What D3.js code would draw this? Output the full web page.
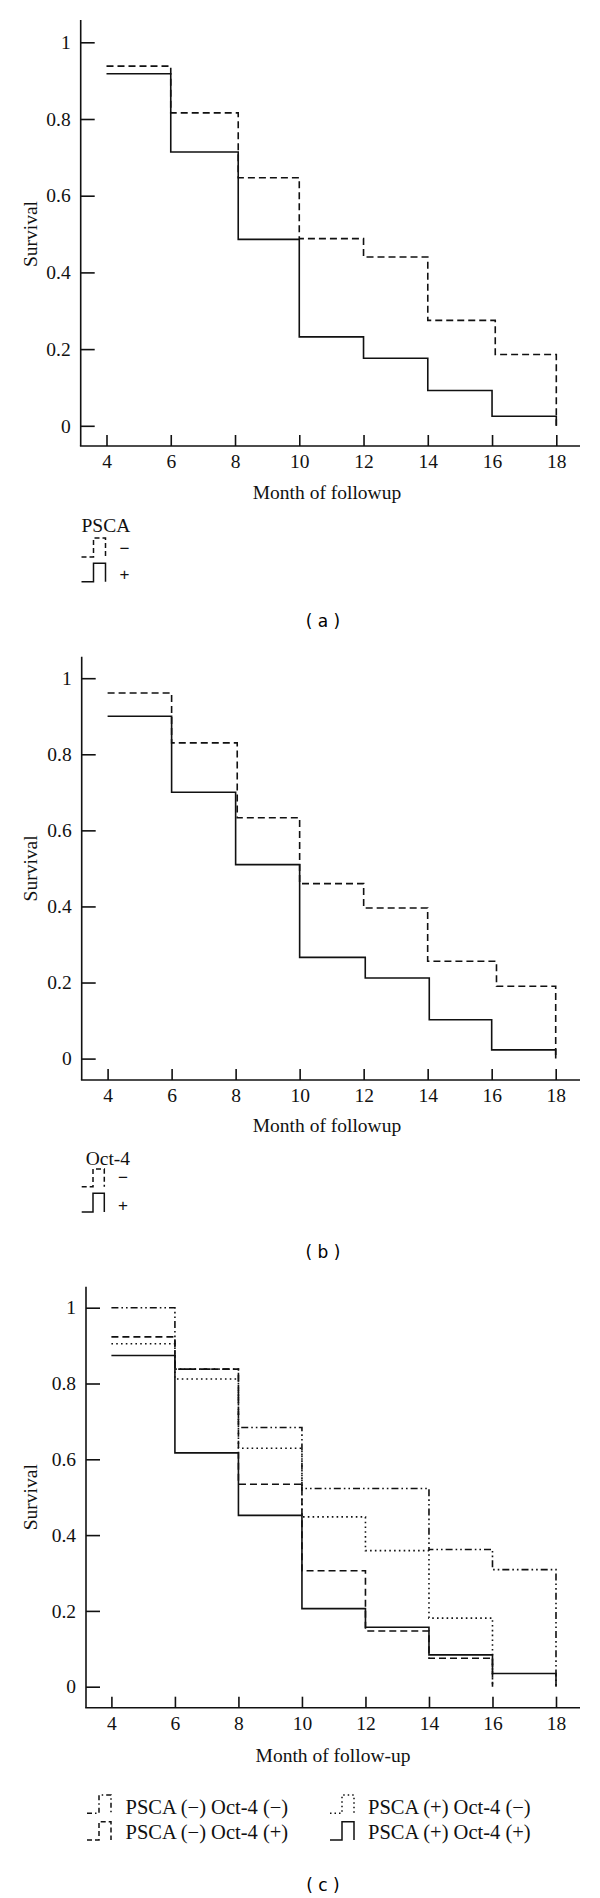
<!DOCTYPE html>
<html><head><meta charset="utf-8">
<script src="https://cdn.jsdelivr.net/npm/d3@7"></script>
<style>body{margin:0;background:#fff}</style>
</head><body>
<script>
// ---------- data ----------
const monthTicks = [4, 6, 8, 10, 12, 14, 16, 18];
const survTicks = [0, 0.2, 0.4, 0.6, 0.8, 1];
const survTickLabels = ["0", "0.2", "0.4", "0.6", "0.8", "1"];

// (a) PSCA
const aNegMonths = [4, 6, 8.1, 10, 12, 14, 16.1, 18];
const aNegSurv   = [0.938, 0.816, 0.647, 0.488, 0.440, 0.275, 0.186, 0];
const aPosMonths = [4, 6, 8.1, 10, 12, 14, 16, 18];
const aPosSurv   = [0.918, 0.714, 0.486, 0.232, 0.176, 0.092, 0.025, 0];

// (b) Oct-4
const bNegMonths = [4, 6, 8.05, 10, 12, 14, 16.15, 18];
const bNegSurv   = [0.961, 0.830, 0.633, 0.460, 0.396, 0.256, 0.190, 0];
const bPosMonths = [4, 6, 8, 10, 12.05, 14.05, 16, 18];
const bPosSurv   = [0.900, 0.700, 0.510, 0.266, 0.212, 0.102, 0.023, 0];

// (c) combined
const cNNMonths = [4, 6, 8, 10, 14, 16, 18];
const cNNSurv   = [1.000, 0.838, 0.684, 0.523, 0.362, 0.309, 0];
const cNPMonths = [4, 6, 8, 10, 12, 14, 16];
const cNPSurv   = [0.923, 0.838, 0.534, 0.306, 0.147, 0.075, 0];
const cPNMonths = [4, 6, 8, 10, 12, 14, 16];
const cPNSurv   = [0.905, 0.812, 0.629, 0.448, 0.359, 0.181, 0];
const cPPMonths = [4, 6, 8, 10, 12, 14, 16, 18];
const cPPSurv   = [0.874, 0.617, 0.452, 0.206, 0.157, 0.084, 0.035, 0];

const legendALabels = ["\u2212", "+"];
const legendBLabels = ["\u2212", "+"];
const legendCLabels = ["PSCA (\u2212) Oct-4 (\u2212)", "PSCA (\u2212) Oct-4 (+)", "PSCA (+) Oct-4 (\u2212)", "PSCA (+) Oct-4 (+)"];

// ---------- styles ----------
const DASH = {solid: null, dashed: "7,4", dotted: "1.6,3.2", dashdot: "7,3,1.6,3,1.6,3"};
const SERIF = "'Liberation Serif', 'Times New Roman', serif";
const SANS = "'DejaVu Sans', Verdana, sans-serif";
const INK = "#111";

const svg = d3.select("body").append("svg").attr("width", 600).attr("height", 1898);

function zip(ms, ss) { return ms.map((m, i) => [m, ss[i]]); }

function drawPanel(p) {
  const x = d3.scaleLinear().domain([4, 18]).range([p.x4, p.x18]);
  const y = d3.scaleLinear().domain([0, 1]).range([p.y0, p.y1]);
  const g = svg.append("g");

  g.append("line").attr("x1", p.ax).attr("x2", p.ax).attr("y1", p.axTop).attr("y2", p.axBottom)
    .attr("stroke", INK).attr("stroke-width", 1.6);
  g.append("line").attr("x1", p.ax - 0.8).attr("x2", p.axRight).attr("y1", p.axBottom).attr("y2", p.axBottom)
    .attr("stroke", INK).attr("stroke-width", 1.6);

  const yAxis = d3.axisLeft(y).tickValues(survTicks)
    .tickFormat(d => survTickLabels[survTicks.indexOf(d)])
    .tickSizeInner(-14).tickSizeOuter(0).tickPadding(10);
  const ya = g.append("g").attr("transform", `translate(${p.ax},0)`).call(yAxis);
  ya.select(".domain").remove();
  ya.selectAll("line").attr("stroke", INK).attr("stroke-width", 1.6);
  ya.selectAll("text").attr("font-family", SERIF).attr("font-size", 19.5).attr("fill", INK);

  const xAxis = d3.axisBottom(x).tickValues(monthTicks)
    .tickSizeInner(-11).tickSizeOuter(0).tickPadding(8);
  const xa = g.append("g").attr("transform", `translate(0,${p.axBottom})`).call(xAxis);
  xa.select(".domain").remove();
  xa.selectAll("line").attr("stroke", INK).attr("stroke-width", 1.6);
  xa.selectAll("text").attr("font-family", SERIF).attr("font-size", 19.5).attr("fill", INK);

  g.append("text").attr("x", p.xTitleX).attr("y", p.xTitleY).attr("text-anchor", "middle")
    .attr("dominant-baseline", "central").attr("font-family", SERIF).attr("font-size", 19.5).attr("fill", INK)
    .text(p.xTitle);
  g.append("text").attr("transform", `translate(30.6,${(p.y0 + p.y1) / 2}) rotate(-90)`)
    .attr("text-anchor", "middle").attr("dominant-baseline", "central")
    .attr("font-family", SERIF).attr("font-size", 19.5).attr("fill", INK).text("Survival");

  const line = d3.line().x(d => x(d[0])).y(d => y(d[1])).curve(d3.curveStepAfter);
  p.series.forEach(s => {
    g.append("path").attr("d", line(s.pts)).attr("fill", "none").attr("stroke", INK)
      .attr("stroke-width", 1.6).attr("stroke-dasharray", DASH[s.style]);
  });

  g.append("text").attr("x", 323).attr("y", p.capY).attr("text-anchor", "middle")
    .attr("dominant-baseline", "central").attr("font-family", SANS).attr("font-size", 17).attr("fill", "#000")
    .text(p.caption);
}

function legendSymbol(x0, yTop, yBot, w, style) {
  const h = w / 2;
  const pts = [[x0, yBot], [x0 + h, yBot], [x0 + h, yTop], [x0 + w, yTop], [x0 + w, yBot]];
  svg.append("path").attr("d", d3.line()(pts)).attr("fill", "none").attr("stroke", INK)
    .attr("stroke-width", 1.5).attr("stroke-dasharray", style === "dashed" ? "5,3" : style === "dotted" ? "1.5,3" : style === "dashdot" ? "5,3,1.5,3" : null);
}

// ---------- panel a ----------
drawPanel({
  x4: 106.5, x18: 556.3, y0: 425.8, y1: 42.3, ax: 80.7, axTop: 20, axBottom: 446, axRight: 580,
  xTitle: "Month of followup", xTitleX: 327, xTitleY: 492, capY: 621, caption: "( a )",
  series: [
    {pts: zip(aNegMonths, aNegSurv), style: "dashed"},
    {pts: zip(aPosMonths, aPosSurv), style: "solid"}
  ]
});
svg.append("text").attr("x", 81.5).attr("y", 525).attr("dominant-baseline", "central")
  .attr("font-family", SERIF).attr("font-size", 19.5).attr("fill", INK).text("PSCA");
legendSymbol(81.5, 538, 557, 24, "dashed");
legendSymbol(81.5, 563.3, 581.7, 24, "solid");
svg.selectAll(".lga").data(legendALabels).enter().append("text")
  .attr("x", 124.4).attr("y", (d, i) => [548, 574.3][i]).attr("text-anchor", "middle").attr("dominant-baseline", "central")
  .attr("font-family", "'Liberation Sans', Arial, sans-serif").attr("font-size", 17).attr("fill", INK).text(d => d);

// ---------- panel b ----------
drawPanel({
  x4: 107.6, x18: 555.7, y0: 1058.6, y1: 678.2, ax: 81.7, axTop: 656.7, axBottom: 1080, axRight: 580,
  xTitle: "Month of followup", xTitleX: 327, xTitleY: 1125.7, capY: 1251.7, caption: "( b )",
  series: [
    {pts: zip(bNegMonths, bNegSurv), style: "dashed"},
    {pts: zip(bPosMonths, bPosSurv), style: "solid"}
  ]
});
svg.append("text").attr("x", 85.7).attr("y", 1158).attr("dominant-baseline", "central")
  .attr("font-family", SERIF).attr("font-size", 19.5).attr("fill", INK).text("Oct-4");
legendSymbol(81.7, 1169, 1186.7, 22.6, "dashed");
legendSymbol(81.7, 1193.3, 1212, 22.6, "solid");
svg.selectAll(".lgb").data(legendBLabels).enter().append("text")
  .attr("x", 123).attr("y", (d, i) => [1177, 1205][i]).attr("text-anchor", "middle").attr("dominant-baseline", "central")
  .attr("font-family", "'Liberation Sans', Arial, sans-serif").attr("font-size", 17).attr("fill", INK).text(d => d);

// ---------- panel c ----------
drawPanel({
  x4: 111.4, x18: 556, y0: 1686.7, y1: 1307.7, ax: 86, axTop: 1286.7, axBottom: 1707.7, axRight: 580,
  xTitle: "Month of follow-up", xTitleX: 333, xTitleY: 1755, capY: 1885, caption: "( c )",
  series: [
    {pts: zip(cNNMonths, cNNSurv), style: "dashdot"},
    {pts: zip(cNPMonths, cNPSurv), style: "dashed"},
    {pts: zip(cPNMonths, cPNSurv), style: "dotted"},
    {pts: zip(cPPMonths, cPPSurv), style: "solid"}
  ]
});
const cStyles = ["dashdot", "dashed", "dotted", "solid"];
const cSymX = [87, 87, 330, 330];
const cTextX = [125.5, 125.5, 368, 368];
const cRowTop = [1795, 1821.7, 1795, 1821.7];
const cRowMid = [1806.7, 1831.7, 1806.7, 1831.7];
legendCLabels.forEach((lab, i) => {
  legendSymbol(cSymX[i], cRowTop[i], cRowTop[i] + 18.3, 24, cStyles[i]);
  svg.append("text").attr("x", cTextX[i]).attr("y", cRowMid[i]).attr("dominant-baseline", "central")
    .attr("font-family", SERIF).attr("font-size", 20.5).attr("fill", INK).text(lab);
});
</script>
</body></html>
